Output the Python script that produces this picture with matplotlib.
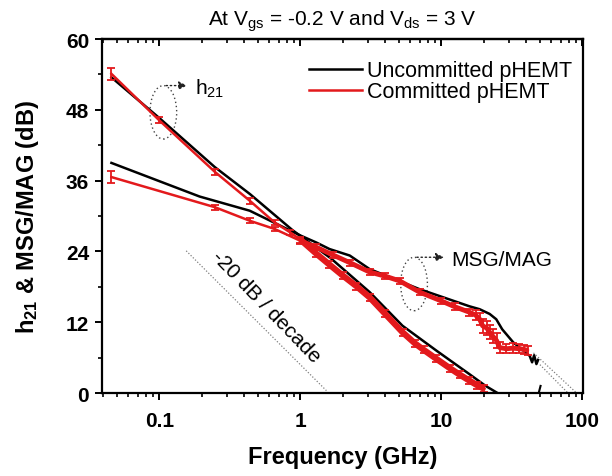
import matplotlib.pyplot as plt
from matplotlib.lines import Line2D
from matplotlib.patches import Ellipse

plt.rcParams['font.family'] = ['Liberation Sans', 'DejaVu Sans']
plt.rcParams['mathtext.fontset'] = 'custom'
plt.rcParams['mathtext.rm'] = 'Liberation Sans'
plt.rcParams['mathtext.bf'] = 'Liberation Sans:bold'
plt.rcParams['mathtext.default'] = 'regular'

# frequency (GHz) and gain (dB)
unc_h21_f  = [0.0457, 0.1, 0.247, 0.44, 0.88, 1.65, 3.1, 5.3, 9.2, 15.8, 20.6, 25.0]
unc_h21_db = [53.5, 46.6, 38.3, 33.7, 27.6, 22.8, 17.1, 11.4, 7.2, 3.2, 1.2, 0.0]

com_h21_f   = [0.0457, 0.1, 0.247, 0.437, 0.657, 0.85, 1.0, 1.3, 1.6, 2.0, 2.5, 3.1, 4.0,
               5.3, 6.5, 7.5, 9.2, 11.5, 13.5, 15.8, 18.0, 20.2]
com_h21_db  = [54.1, 46.2, 37.5, 32.6, 28.9, 27.2, 26.0, 23.6, 21.8, 19.9, 18.1, 16.2, 13.4,
               10.3, 8.4, 7.3, 5.8, 4.2, 3.1, 2.1, 1.3, 0.7]
com_h21_err = [1.0, 0.5, 0.5, 0.5, 0.5, 0.5, 0.5, 0.6, 0.6, 0.6, 0.6, 0.6, 0.6,
               0.6, 0.6, 0.6, 0.6, 0.6, 0.6, 0.6, 0.6, 0.6]

unc_msg_f  = [0.0457, 0.193, 0.437, 1.0, 1.3, 1.61, 2.24, 3.1, 7.0, 15.8, 18.7, 22.0,
              24.5, 27.0, 32.3, 42.3, 44.0, 45.5, 47.2, 48.5]
unc_msg_db = [39.0, 33.3, 30.9, 26.7, 25.5, 24.4, 23.3, 21.0, 17.6, 14.7, 14.2, 13.4,
              12.5, 10.8, 8.6, 6.3, 5.2, 6.4, 4.9, 5.6]

com_msg_f   = [0.0457, 0.247, 0.437, 0.657, 1.0, 1.3, 1.7, 2.24, 3.1, 4.0, 5.06, 7.0, 10.0,
               12.5, 15.8, 17.5, 18.7, 19.6, 21.0, 22.0, 23.2, 24.6, 25.9, 28.9, 32.0,
               35.8, 38.5, 41.0]
com_msg_db  = [36.6, 31.5, 29.2, 27.8, 25.8, 24.7, 23.4, 22.1, 20.5, 19.8, 19.0, 17.1, 15.6,
               14.6, 13.7, 13.2, 12.5, 11.4, 11.0, 10.3, 9.6, 8.9, 7.7, 7.5, 7.6,
               7.5, 7.4, 7.2]
com_msg_err = [1.0, 0.4, 0.4, 0.4, 0.5, 0.5, 0.5, 0.5, 0.5, 0.5, 0.5, 0.5, 0.5,
               0.6, 0.6, 0.9, 1.0, 1.2, 1.2, 1.2, 1.2, 1.2, 1.0, 0.8, 0.8,
               0.8, 0.8, 0.8]

# fmax extrapolation (dotted) and -20 dB/decade guide
extrap1_f, extrap1_db = [50.0, 79.0], [4.8, 0.0]
extrap2_f, extrap2_db = [45.0, 91.0], [6.8, 0.0]
stub_f, stub_db = [49.0, 50.5], [0.0, 1.2]
guide_f, guide_db = [0.155, 1.53], [24.1, 0.4]

red = '#e3191c'

fig = plt.figure(figsize=(6.12, 4.77), dpi=100)
ax = fig.add_axes([0.1662, 0.174, 0.7864, 0.7421])

ax.plot(unc_h21_f, unc_h21_db, color='black', lw=1.8)
ax.plot(unc_msg_f, unc_msg_db, color='black', lw=1.8)
ax.plot(stub_f, stub_db, color='black', lw=1.5)

# committed device: line with error bars, thicker where the points crowd together
ax.errorbar(com_h21_f, com_h21_db, yerr=com_h21_err, color=red, lw=1.8,
            capsize=3, elinewidth=1.3, capthick=1.3)
ax.plot(com_h21_f[6:], com_h21_db[6:], color=red, lw=4.5, solid_capstyle='butt')
ax.errorbar(com_msg_f, com_msg_db, yerr=com_msg_err, color=red, lw=1.8,
            capsize=3, elinewidth=1.3, capthick=1.3)
ax.plot(com_msg_f[4:], com_msg_db[4:], color=red, lw=3.5, solid_capstyle='butt')

ax.plot(extrap1_f, extrap1_db, color='gray', lw=0.9, ls=(0, (1, 1.5)))
ax.plot(extrap2_f, extrap2_db, color='gray', lw=0.9, ls=(0, (1, 1.5)))
ax.plot(guide_f, guide_db, color='gray', lw=0.9, ls=(0, (1, 1.5)))
ax.text(0.574, 14.8, '-20 dB / decade', rotation=-46, fontsize=15,
        ha='center', va='center', rotation_mode='anchor')

# annotation ellipses + dotted arrows
for cx, cy, tx, label in [(0.128, 0.793, 0.193, 'h$_{21}$'),
                          (0.649, 0.308, 0.727, 'MSG/MAG')]:
    ax.add_patch(Ellipse((cx, cy), 0.0555, 0.151, transform=ax.transAxes,
                         fill=False, ls=(0, (1, 2)), lw=1.0, ec='#444444'))
    ytop = cy + 0.0755
    ax.annotate('', xy=(tx - 0.01, ytop), xytext=(cx, ytop),
                xycoords='axes fraction', textcoords='axes fraction',
                arrowprops=dict(arrowstyle='-|>', ls=(0, (1, 2)), lw=1.0,
                                color='#222222', mutation_scale=12))
    ax.text(tx, ytop - 0.006, label, transform=ax.transAxes, fontsize=15,
            ha='left', va='center')

ax.set_xscale('log')
ax.set_xlim(0.039, 101)
ax.set_ylim(0, 60)
ax.set_xticks([0.1, 1, 10, 100])
ax.set_xticklabels(['0.1', '1', '10', '100'])
ax.set_yticks(range(0, 61, 12))
ax.set_yticks(range(6, 60, 12), minor=True)

for lab in ax.get_xticklabels() + ax.get_yticklabels():
    lab.set_fontweight('bold')
    lab.set_fontsize(15)

for s in ax.spines.values():
    s.set_linewidth(1.6)
ax.tick_params(which='major', direction='out', length=5, width=1.4, pad=4)
ax.tick_params(which='minor', direction='out', length=3, width=1.2)
ax.tick_params(axis='x', which='major', pad=8)

top = ax.secondary_xaxis('top')
top.tick_params(which='major', direction='in', length=5, width=1.4, labeltop=False)
top.tick_params(which='minor', direction='in', length=3, width=1.2)
top.spines['top'].set_linewidth(1.6)

ax.set_xlabel('Frequency (GHz)', fontsize=17, fontweight='bold', labelpad=11)
ax.set_ylabel('h$_{21}$ & MSG/MAG (dB)', fontsize=17, fontweight='bold', labelpad=18)
ax.set_title('At V$_{gs}$ = -0.2 V and V$_{ds}$ = 3 V', fontsize=15, pad=10)

handles = [Line2D([], [], color='black', lw=1.8), Line2D([], [], color=red, lw=1.8)]
ax.legend(handles, ['Uncommitted pHEMT', 'Committed pHEMT'], loc='upper left',
          bbox_to_anchor=(0.43, 0.94), frameon=False, fontsize=15.5,
          handlelength=2.5, handletextpad=0.2, labelspacing=0.0,
          borderpad=0, borderaxespad=0)

fig.savefig('out.png', dpi=100)
